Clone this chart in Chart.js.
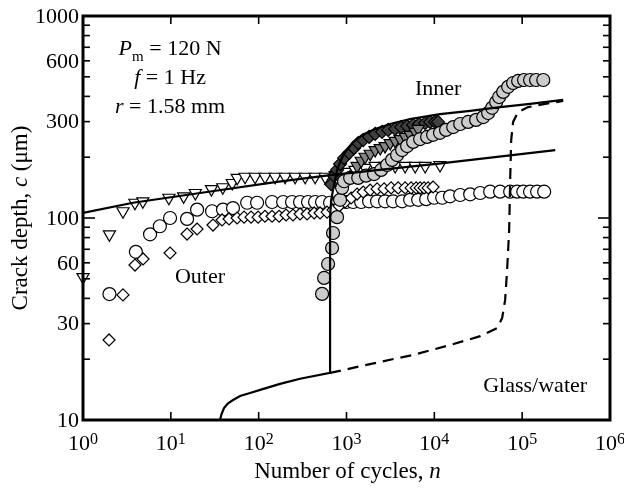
<!DOCTYPE html>
<html>
<head>
<meta charset="utf-8">
<script src="https://cdn.jsdelivr.net/npm/chart.js@4.4.1/dist/chart.umd.min.js"></script>
<style>
  html, body { margin: 0; padding: 0; background: #fff; overflow: hidden; }
  canvas { display: block; }
</style>
</head>
<body>
<canvas id="crack-chart" width="624" height="489"></canvas>
<script>
// ── Data (n = cycles, c = crack depth in µm) ────
// Outer crack: open markers
const outerTriN = [1, 2, 2.85, 3.9, 4.8, 9.5, 14, 19, 29, 39, 50, 57, 70, 91, 118, 154, 200, 260, 338, 439, 571, 742, 964, 1250, 1630, 2120, 2750, 3580, 4650, 6050, 7860, 11600];
const outerTriC = [51, 83, 108, 119, 121, 126, 128, 133, 139, 142, 149, 158, 160, 160, 160, 160, 160, 160, 160, 160, 160, 163, 169, 173, 177, 181, 181, 181, 181, 181, 181, 183];

const outerCircN = [2, 4, 5.8, 7.5, 9.8, 15.3, 19.9, 29.5, 39.3, 51, 74, 96, 142, 190, 240, 296, 365, 439, 527, 650, 802, 990, 1190, 1470, 1810, 2230, 2750, 3390, 4300, 5300, 6540, 8070, 9950, 12300, 15100, 19700, 25600, 33300, 43200, 56100, 73000, 87700, 103000, 123000, 148000, 178000];
const outerCircC = [42, 68, 83, 91, 100, 99, 110, 108, 110, 112, 119, 119, 120, 120, 120, 120, 120, 120, 120, 119, 120, 120, 120, 120, 121, 121, 121, 121, 121, 123, 123, 124, 126, 126, 128, 130, 131, 133, 135, 135, 135, 135, 135, 135, 135, 135];

const outerDiaN = [1.98, 2.85, 3.91, 4.83, 9.8, 15.3, 19.9, 30.2, 38.3, 46, 56.8, 68.2, 81.9, 98.5, 118, 142, 171, 205, 246, 296, 356, 428, 500, 601, 703, 823, 964, 1130, 1320, 1550, 1860, 2230, 2680, 3220, 3870, 4650, 5440, 6210, 6890, 7650, 8490, 9680];
const outerDiaC = [24.9, 41.6, 58.5, 62.7, 67.1, 83.3, 88.2, 92.3, 97.8, 98.9, 100, 101, 101, 101, 102, 102, 102, 103.5, 103.5, 104.7, 104.7, 105.9, 105.9, 107, 109.6, 114.6, 120, 125.6, 131.4, 134.5, 137.6, 139.3, 139.3, 140.9, 140.9, 140.9, 140.9, 140.9, 140.9, 140.9, 140.9, 142.4];

// Inner crack: filled markers
const innerCircN = [527, 556, 617, 685, 703, 781, 845, 891, 939, 1100, 1360, 1670, 2060, 2480, 2900, 3300, 3770, 4300, 4900, 5740, 6890, 8280, 9680, 11600, 13600, 16400, 19700, 24300, 29900, 36000, 41000, 45500, 50600, 54700, 60800, 69300, 78900, 90000, 105000, 123000, 144000, 174000];
const innerCircC = [42.1, 50.5, 59.2, 71, 84.3, 101, 123, 141, 152, 158, 158, 162, 165, 173, 183, 194, 205, 217, 227, 238, 246, 252, 258, 264, 273, 282, 292, 299, 306, 316, 331, 351, 375, 397, 421, 446, 466, 477, 482, 482, 482, 482];

const innerDiaN = [668, 722, 781, 845, 939, 1070, 1220, 1360, 1550, 1810, 2120, 2540, 2980, 3580, 4190, 4900, 5740, 6710, 7860, 8960, 10200, 11000];
const innerDiaC = [147, 162, 173, 185, 198, 210, 222, 235, 243, 252, 261, 267, 273, 276, 282, 285, 289, 292, 295, 299, 299, 299];

const innerTriN = [1320, 1470, 1630, 1860, 2120, 2420, 2750, 3140, 3580, 4080, 4650, 5300, 6050, 6540];
const innerTriC = [181, 192, 201, 208, 217, 222, 227, 235, 241, 246, 252, 258, 267, 276];

// Model curves
const fitOuterN = [1, 3.71, 21.5, 162, 650, 12600, 238000];
const fitOuterC = [106, 119, 133, 151, 163, 187, 217];

const modelInnerN = [36.3, 37.8, 40.3, 44.8, 51.1, 61.4, 79.8, 104, 175, 296, 650, 650, 668, 703, 781, 915, 1160, 1510, 2120, 3140, 5300, 11600, 25600, 56100, 123000, 293000];
const modelInnerC = [10, 10.7, 11.47, 12.1, 12.56, 13.15, 13.6, 14.1, 15.1, 16.0, 17.1, 100, 122, 138, 173, 205, 235, 258, 276, 292, 309, 327, 339, 354, 367, 384];

const modelWaterN = [650, 2420, 5740, 15100, 33300, 51900, 59200, 64000, 67400, 71100, 73000, 75000, 78900, 90000, 117000, 183000, 293000];
const modelWaterC = [17.1, 19.4, 21.0, 23.5, 26.0, 28.5, 32.0, 39.3, 55.3, 87.2, 154, 243, 299, 335, 354, 367, 380];

// Axis ticks
const xDecades = [1, 10, 100, 1e3, 1e4, 1e5, 1e6];
const yLabels = [10, 30, 60, 100, 300, 600, 1000];
const yMinor = [20, 30, 40, 50, 60, 70, 80, 90, 200, 300, 400, 500, 600, 700, 800, 900];
const yMajor = [100];

// ── Helpers ─────────────────────────────────────────────────────────
const serif = (size, style = "") => `${style} ${size}px "Liberation Serif", "Times New Roman", serif`.trim();
const pts = (ns, cs) => ns.map((n, i) => ({ x: n, y: cs[i] }));

function drawRuns(ctx, runs, x, baseline, center) {
    let w = 0;
    runs.forEach(r => { ctx.font = r[1]; w += ctx.measureText(r[0]).width; });
    let cx = center ? x - w / 2 : x;
    ctx.textAlign = "left";
    ctx.textBaseline = "alphabetic";
    runs.forEach(r => {
        ctx.font = r[1];
        ctx.fillText(r[0], cx, baseline + (r[2] || 0));
        cx += ctx.measureText(r[0]).width;
    });
}

// Text notes, anchored in data coordinates (centre x, baseline y)
const notes = [
    { runs: [["P", serif(22, "italic")], ["m", serif(15), 6], [" = 120 N", serif(22)]], n: 9.8, c: 641 },
    { runs: [["f", serif(22, "italic")], [" = 1 Hz", serif(22)]], n: 9.8, c: 460 },
    { runs: [["r", serif(22, "italic")], [" = 1.58 mm", serif(22)]], n: 9.8, c: 331 },
    { runs: [["Inner", serif(22)]], n: 11050, c: 406 },
    { runs: [["Outer", serif(22)]], n: 21.5, c: 47.6 },
    { runs: [["Glass/water", serif(22)]], n: 140600, c: 13.8 },
];

// ── Frame, inward ticks, labels and titles ──────────────────────────
const framePlugin = {
    id: "frame",
    afterDatasetsDraw(chart) {
        const { ctx, chartArea: a, scales: { x, y } } = chart;
        ctx.save();
        ctx.strokeStyle = "#000";
        ctx.fillStyle = "#000";

        const seg = (x1, y1, x2, y2) => { ctx.beginPath(); ctx.moveTo(x1, y1); ctx.lineTo(x2, y2); ctx.stroke(); };

        ctx.lineWidth = 1.6;
        xDecades.slice(1, -1).forEach(v => {
            const px = x.getPixelForValue(v);
            seg(px, a.bottom, px, a.bottom - 8);
            seg(px, a.top, px, a.top + 8);
        });
        yMinor.concat(yMajor).forEach(v => {
            const py = y.getPixelForValue(v);
            const len = yMajor.includes(v) ? 12 : 7;
            seg(a.left, py, a.left + len, py);
            seg(a.right, py, a.right - len, py);
        });

        ctx.lineWidth = 3;
        ctx.strokeRect(a.left, a.top, a.right - a.left, a.bottom - a.top);

        // x tick labels: 10 with exponent
        xDecades.forEach(v => {
            const px = x.getPixelForValue(v);
            const exp = String(Math.round(Math.log10(v)));
            drawRuns(ctx, [["10", serif(22)], [exp, serif(16), -6]], px, a.bottom + 30, true);
        });

        // y tick labels
        ctx.font = serif(22);
        ctx.textAlign = "right";
        ctx.textBaseline = "middle";
        yLabels.forEach(v => {
            ctx.fillText(String(v), a.left - 4, y.getPixelForValue(v) + 1);
        });

        // axis titles
        drawRuns(ctx, [["Number of cycles, ", serif(23)], ["n", serif(23, "italic")]], (a.left + a.right) / 2 + 1, a.bottom + 58, true);
        ctx.save();
        ctx.translate(a.left - 56, (a.top + a.bottom) / 2);
        ctx.rotate(-Math.PI / 2);
        drawRuns(ctx, [["Crack depth, ", serif(23)], ["c", serif(23, "italic")], [" (\u03bcm)", serif(23)]], 0, 0, true);
        ctx.restore();

        // notes
        notes.forEach(nt => {
            drawRuns(ctx, nt.runs, x.getPixelForValue(nt.n), y.getPixelForValue(nt.c), true);
        });
        ctx.restore();
    }
};

// ── Datasets ────────────────────────────────────────────────────────
const curve = (ns, cs, dash) => ({
    data: pts(ns, cs),
    showLine: true,
    pointRadius: 0,
    borderColor: "#000",
    borderWidth: 2.2,
    borderDash: dash || [],
    tension: 0,
    fill: false,
});

const markers = (ns, cs, style, radius, fillColor, rotation) => ({
    data: pts(ns, cs),
    showLine: false,
    pointStyle: style,
    pointRadius: radius,
    pointRotation: rotation || 0,
    pointBackgroundColor: fillColor,
    pointBorderColor: "#000",
    pointBorderWidth: 1.2,
    clip: false,
});

// first dataset is drawn on top
const datasets = [
    curve(fitOuterN, fitOuterC),
    curve(modelInnerN, modelInnerC),
    curve(modelWaterN, modelWaterC, [11, 7]),
    markers(innerCircN, innerCircC, "circle", 6.5, "#cccccc"),
    markers(innerTriN, innerTriC, "triangle", 7, "#858585", 180),
    markers(innerDiaN, innerDiaC, "rectRot", 6.5, "#404040"),
    markers(outerDiaN, outerDiaC, "rectRot", 6, "#ffffff"),
    markers(outerCircN, outerCircC, "circle", 6.5, "#ffffff"),
    markers(outerTriN, outerTriC, "triangle", 7, "#ffffff", 180),
];

const ctx = document.getElementById("crack-chart").getContext("2d");
new Chart(ctx, {
    type: "scatter",
    data: { datasets },
    options: {
        responsive: false,
        animation: false,
        layout: { padding: { left: 83, right: 14, top: 16, bottom: 69 } },
        plugins: {
            legend: { display: false },
            tooltip: { enabled: false },
        },
        scales: {
            x: { type: "logarithmic", min: 1, max: 1e6, display: false },
            y: { type: "logarithmic", min: 10, max: 1000, display: false },
        },
    },
    plugins: [framePlugin],
});
</script>
</body>
</html>
